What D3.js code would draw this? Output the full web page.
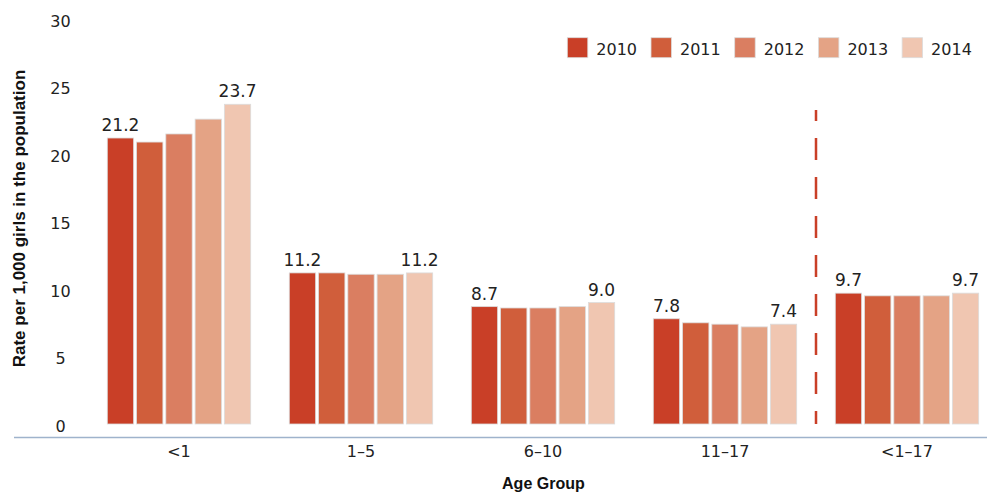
<!DOCTYPE html>
<html>
<head>
<meta charset="utf-8">
<script src="https://cdn.jsdelivr.net/npm/d3@7"></script>
<style>
  html, body { margin: 0; padding: 0; background: #fff; }
  svg { display: block; font-family: "DejaVu Sans", sans-serif; }
  .bold { font-family: "Liberation Sans", Arial, sans-serif; font-weight: bold; }
</style>
</head>
<body>
<svg id="chart" width="987" height="493"></svg>
<script>
// ---- data ----
const categories = ["<1", "1–5", "6–10", "11–17", "<1–17"];
const years = ["2010", "2011", "2012", "2013", "2014"];
const v2010 = [21.2, 11.2, 8.7, 7.8, 9.7];
const v2011 = [20.9, 11.2, 8.6, 7.5, 9.5];
const v2012 = [21.5, 11.1, 8.6, 7.4, 9.5];
const v2013 = [22.6, 11.1, 8.7, 7.2, 9.5];
const v2014 = [23.7, 11.2, 9.0, 7.4, 9.7];
const yTicks = [0, 5, 10, 15, 20, 25, 30];
const labeledYears = ["2010", "2014"];
const colors = ["#c93f27", "#d05e3b", "#da7e61", "#e4a385", "#f0c6b1"];

const seriesValues = [v2010, v2011, v2012, v2013, v2014];
const rows = [];
categories.forEach((c, i) => {
  years.forEach((yr, j) => rows.push({ cat: c, year: yr, value: seriesValues[j][i] }));
});

// ---- layout ----
const svg = d3.select("#chart");
const x0 = d3.scaleBand().domain(categories).range([88, 998]).paddingInner(0.212).paddingOuter(0.106);
const x1 = d3.scaleBand().domain(years).range([0, x0.bandwidth()]).paddingInner(0.1).paddingOuter(0);
const y = d3.scaleLinear().domain([0, 30]).range([424, 19.3]);
const color = d3.scaleOrdinal().domain(years).range(colors);

// y tick labels
svg.append("g").selectAll("text").data(yTicks).join("text")
  .attr("x", 60.5).attr("y", d => y(d) + 2)
  .attr("text-anchor", "middle").attr("dominant-baseline", "central")
  .attr("font-size", 16).attr("fill", "#222")
  .text(d => d);

// y title
svg.append("text").attr("class", "bold")
  .attr("transform", "translate(25,218.5) rotate(-90)")
  .attr("text-anchor", "middle")
  .attr("font-size", 17).attr("fill", "#111")
  .text("Rate per 1,000 girls in the population");

// bars
const groups = svg.append("g").selectAll("g").data(categories).join("g")
  .attr("transform", c => `translate(${x0(c)},0)`);

groups.selectAll("rect").data(c => rows.filter(r => r.cat === c)).join("rect")
  .attr("x", d => x1(d.year))
  .attr("y", d => y(d.value))
  .attr("width", x1.bandwidth())
  .attr("height", d => y(0) - y(d.value))
  .attr("fill", d => color(d.year))
  .attr("stroke", "#dcdcdc").attr("stroke-width", 0.8);

groups.selectAll("text.val").data(c => rows.filter(r => r.cat === c && labeledYears.includes(r.year))).join("text")
  .attr("class", "val")
  .attr("x", d => x1(d.year) + x1.bandwidth() / 2)
  .attr("y", d => y(d.value) - 7)
  .attr("text-anchor", "middle")
  .attr("font-size", 17).attr("fill", "#222")
  .text(d => d.value.toFixed(1));

// x axis line
svg.append("line")
  .attr("x1", 14).attr("x2", 987).attr("y1", 437.5).attr("y2", 437.5)
  .attr("stroke", "#9fb3cc").attr("stroke-width", 1.5);

// category labels
svg.append("g").selectAll("text").data(categories).join("text")
  .attr("x", c => x0(c) + x0.bandwidth() / 2).attr("y", 451)
  .attr("text-anchor", "middle").attr("dominant-baseline", "central")
  .attr("font-size", 16).attr("fill", "#222")
  .text(c => c);

// x title
svg.append("text").attr("class", "bold")
  .attr("x", 543.4).attr("y", 489.3)
  .attr("text-anchor", "middle")
  .attr("font-size", 16).attr("fill", "#111")
  .text("Age Group");

// dashed separator
const sepX = (x0(categories[3]) + x0.bandwidth() + x0(categories[4])) / 2;
svg.append("line")
  .attr("x1", sepX).attr("x2", sepX)
  .attr("y1", y(0)).attr("y2", y(23.28))
  .attr("stroke", "#c93f27").attr("stroke-width", 2.5)
  .attr("stroke-dasharray", "22,17").attr("stroke-dashoffset", 9);

// legend
const legend = svg.append("g").selectAll("g").data(years).join("g")
  .attr("transform", (d, i) => `translate(${567.3 + i * 83.7},37.7)`);
legend.append("rect")
  .attr("width", 20.5).attr("height", 20)
  .attr("fill", d => color(d))
  .attr("stroke", "#dcdcdc").attr("stroke-width", 0.8);
legend.append("text")
  .attr("x", 29).attr("y", 17.3)
  .attr("font-size", 16).attr("fill", "#222")
  .text(d => d);
</script>
</body>
</html>
